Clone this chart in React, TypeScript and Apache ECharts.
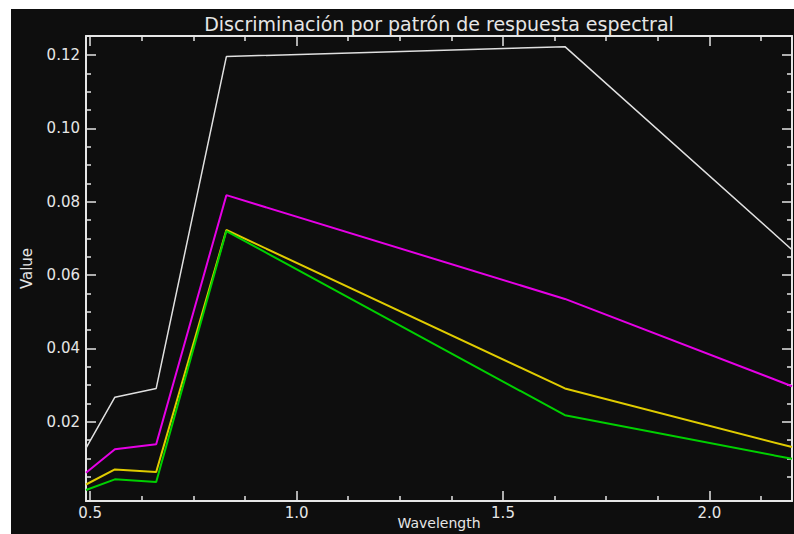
import React, { useEffect, useRef } from "react";
import * as echarts from "echarts";

// Wavelength (µm) of each band
const wavelengths = [0.49, 0.56, 0.66, 0.83, 1.65, 2.2];
// Spectral response of each class
const whiteValues = [0.0128, 0.0267, 0.0291, 0.1196, 0.1223, 0.0669];
const magentaValues = [0.0061, 0.0125, 0.0139, 0.0818, 0.0535, 0.0297];
const yellowValues = [0.0029, 0.007, 0.0063, 0.0723, 0.0291, 0.0131];
const greenValues = [0.0014, 0.0043, 0.0036, 0.072, 0.0218, 0.0099];

// Tick values
const xMajorTicks = [0.5, 1.0, 1.5, 2.0];
const xMinorTicks = [0.625, 0.75, 0.875, 1.125, 1.25, 1.375, 1.625, 1.75, 1.875, 2.125];
const yMajorTicks = [0.02, 0.04, 0.06, 0.08, 0.1, 0.12];
const yMinorTicks = [
  0.005, 0.01, 0.015, 0.025, 0.03, 0.035, 0.045, 0.05, 0.055, 0.065, 0.07, 0.075,
  0.085, 0.09, 0.095, 0.105, 0.11, 0.115,
];

const X_MIN = 0.49;
const X_MAX = 2.2;
const Y_MIN = -0.0016;
const Y_MAX = 0.1252;

const FG = "#e6e6e6";
const BG = "#0e0e0e";
const FONT = "DejaVu Sans";

function makeAxis(
  kind: "x" | "y",
  position: string,
  ticks: number[],
  length: number,
  withLine: boolean,
  labels: boolean
): any {
  const isX = kind === "x";
  return {
    type: "value",
    position,
    min: isX ? X_MIN : Y_MIN,
    max: isX ? X_MAX : Y_MAX,
    splitLine: { show: false },
    axisLine: { show: withLine, onZero: false, lineStyle: { color: FG, width: 2 } },
    axisTick: {
      show: true,
      inside: true,
      length,
      customValues: ticks,
      lineStyle: { color: FG, width: 1.5 },
    },
    axisLabel: labels
      ? {
          show: true,
          customValues: ticks,
          color: FG,
          fontFamily: FONT,
          fontSize: 15,
          margin: isX ? 4 : 6,
          formatter: (v: number) => (isX ? v.toFixed(1) : v.toFixed(2)),
        }
      : { show: false },
  };
}

export default function App() {
  const ref = useRef<HTMLDivElement>(null);

  useEffect(() => {
    if (!ref.current) return;
    const chart = echarts.init(ref.current, null, { renderer: "svg" });

    const xMain = makeAxis("x", "bottom", xMajorTicks, 10, true, true);
    xMain.name = "Wavelength";
    xMain.nameLocation = "middle";
    xMain.nameGap = 15;
    xMain.nameMoveOverlap = false;
    xMain.nameTextStyle = { color: FG, fontFamily: FONT, fontSize: 14 };

    const yMain = makeAxis("y", "left", yMajorTicks, 10, true, true);
    yMain.name = "Value";
    yMain.nameLocation = "middle";
    yMain.nameGap = 52;
    yMain.nameMoveOverlap = false;
    yMain.nameTextStyle = { color: FG, fontFamily: FONT, fontSize: 15 };

    const mk = (name: string, values: number[], color: string, width: number) => ({
      name,
      type: "line",
      xAxisIndex: 0,
      yAxisIndex: 0,
      showSymbol: false,
      symbol: "none",
      clip: true,
      lineStyle: { color, width },
      data: wavelengths.map((w, i) => [w, values[i]]),
    });

    chart.setOption({
      animation: false,
      backgroundColor: BG,
      grid: {
        left: 75,
        right: 2,
        top: 27,
        bottom: 33,
        containLabel: false,
        outerBoundsMode: "none",
      },
      graphic: [
        {
          type: "text",
          x: 428,
          y: 15,
          style: {
            text: "Discriminación por patrón de respuesta espectral",
            fill: FG,
            font: `19px "${FONT}"`,
            align: "center",
            verticalAlign: "middle",
          },
        },
      ],
      xAxis: [
        xMain,
        makeAxis("x", "bottom", xMinorTicks, 5, false, false),
        makeAxis("x", "top", xMajorTicks, 10, true, false),
        makeAxis("x", "top", xMinorTicks, 5, false, false),
      ],
      yAxis: [
        yMain,
        makeAxis("y", "left", yMinorTicks, 5, false, false),
        makeAxis("y", "right", yMajorTicks, 10, true, false),
        makeAxis("y", "right", yMinorTicks, 5, false, false),
      ],
      series: [
        mk("Clase 1", whiteValues, "#e0e0e0", 1.5),
        mk("Clase 2", magentaValues, "#e600e6", 2),
        mk("Clase 3", yellowValues, "#e0cc00", 2),
        mk("Clase 4", greenValues, "#00d000", 2),
      ],
    });

    return () => chart.dispose();
  }, []);

  return (
    <div
      style={{
        position: "fixed",
        left: 11,
        top: 9,
        width: 783,
        height: 525,
        background: BG,
      }}
    >
      <div ref={ref} style={{ width: 783, height: 525 }} />
    </div>
  );
}
